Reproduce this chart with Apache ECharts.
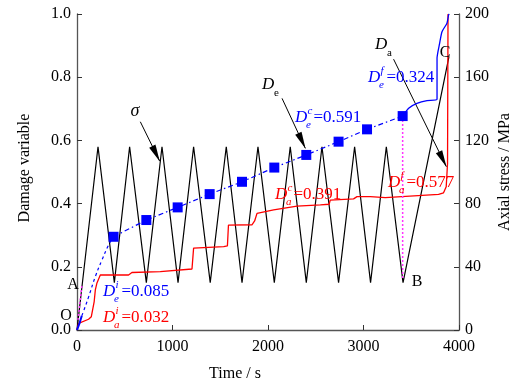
<!DOCTYPE html>
<html><head><meta charset="utf-8">
<script src="https://cdn.jsdelivr.net/npm/echarts@6/dist/echarts.min.js"></script>
<style>html,body{margin:0;padding:0;background:#fff}#c{width:522px;height:385px}</style>
</head><body><div id="c"></div>
<script>
// ---- data ----
var xTicks = [0, 1000, 2000, 3000, 4000];
var leftTicks = [0, 0.2, 0.4, 0.6, 0.8, 1.0];
var rightTicks = [0, 40, 80, 120, 160, 200];

// axial stress (MPa) vs time (s)
var stressT = [0, 220, 391, 551, 726, 890, 1058, 1221, 1395, 1563, 1728, 1895, 2066, 2233, 2401, 2565, 2739, 2907, 3074, 3239, 3414, 3895];
var stressV = [0, 116, 30, 116, 30, 116, 30, 116, 30, 116, 30, 116, 30, 116, 30, 116, 30, 116, 30, 116, 30, 173];

// D_a (red)
var daT = [0, 17, 121, 150, 163, 180, 192, 209, 244, 540, 560, 575, 872, 1204, 1215, 1221, 1536, 1575, 1586, 1832, 1860, 1885, 2059, 2304, 2548, 2640, 2652, 2896, 2932, 3071, 3228, 3245, 3786, 3838, 3866, 3880, 3885];
var daV = [0, 0.021, 0.034, 0.042, 0.044, 0.09, 0.127, 0.149, 0.174, 0.174, 0.178, 0.182, 0.185, 0.193, 0.195, 0.259, 0.264, 0.266, 0.332, 0.333, 0.345, 0.369, 0.380, 0.392, 0.396, 0.398, 0.411, 0.415, 0.422, 0.422, 0.419, 0.422, 0.429, 0.434, 0.453, 0.527, 1.0];

// D_e (blue)
var deStartT = [0, 25, 50];
var deStartV = [0, 0.02, 0.045];
var deCurveT = [50, 69, 122, 192, 262, 331, 383];
var deCurveV = [0.045, 0.06, 0.105, 0.169, 0.222, 0.269, 0.295];
var deSqT = [383, 726, 1054, 1389, 1728, 2066, 2401, 2739, 3037, 3410];
var deSqV = [0.295, 0.348, 0.388, 0.430, 0.469, 0.514, 0.554, 0.596, 0.635, 0.677];
var deEndT = [3410, 3473, 3560, 3665, 3770, 3770, 3797, 3822, 3874, 3891, 3898];
var deEndV = [0.677, 0.702, 0.717, 0.726, 0.730, 0.860, 0.907, 0.944, 0.971, 0.997, 1.0];

// magenta guide lines
var guideBT = [3410, 3410];
var guideBV = [0.677, 0.161];
var guideOAT = [10, 52];
var guideOAV = [0.032, 0.142];

// arrows [t0, v0, t1, v1]
var arrowSigma = [663, 0.659, 865, 0.535];
var arrowDe = [2147, 0.733, 2391, 0.575];
var arrowDa = [3315, 0.857, 3867, 0.517];

function zip(a, b) { return a.map(function (x, i) { return [x, b[i]]; }); }

var FONT = '"Liberation Serif", "Times New Roman", serif';
var BLUE = '#0000ff', RED = '#ff0000', MAG = '#ff33ff';

var chart = echarts.init(document.getElementById('c'), null, { renderer: 'canvas' });

function axisCommon() {
  return {
    axisLine: { show: true, lineStyle: { color: '#555', width: 1.3 } },
    axisTick: { show: true, inside: true, length: 5, lineStyle: { color: '#333', width: 1 } },
    splitLine: { show: false },
    axisLabel: { fontFamily: FONT, fontSize: 16, color: '#000' }
  };
}

var xa = axisCommon();
Object.assign(xa, { type: 'value', min: xTicks[0], max: xTicks[xTicks.length - 1], interval: xTicks[1] - xTicks[0] });
xa.axisLabel.margin = 9;
xa.axisLabel.formatter = function (v) { return String(v); };

var ya = axisCommon();
Object.assign(ya, { type: 'value', min: leftTicks[0], max: leftTicks[leftTicks.length - 1], interval: 0.2, position: 'left' });
ya.axisLabel.formatter = function (v) { return v.toFixed(1); };
ya.axisLabel.margin = 6;

var yb = axisCommon();
Object.assign(yb, { type: 'value', min: rightTicks[0], max: rightTicks[rightTicks.length - 1], interval: 40, position: 'right' });
yb.axisLabel.margin = 6;
yb.axisLabel.formatter = function (v) { return String(v); };

function arrowLine(a) {
  return [{ coord: [a[0], a[1]], symbol: 'none' },
          { coord: [a[2], a[3]], symbol: 'triangle', symbolSize: [7, 17], symbolOffset: [0, 8] }];
}

var option = {
  animation: false,
  backgroundColor: '#fff',
  grid: { left: 77, right: 63, top: 14, bottom: 55 },
  xAxis: xa,
  yAxis: [ya, yb],
  series: [
    { type: 'line', yAxisIndex: 1, data: zip(stressT, stressV), symbol: 'none', lineStyle: { color: '#000', width: 1.2 }, z: 3 },
    { type: 'line', yAxisIndex: 0, data: zip(daT, daV), symbol: 'none', lineStyle: { color: RED, width: 1.3 }, z: 4 },
    { type: 'line', yAxisIndex: 0, data: zip(deStartT, deStartV), symbol: 'none', lineStyle: { color: BLUE, width: 2 }, z: 5 },
    { type: 'line', yAxisIndex: 0, data: zip(deCurveT, deCurveV), symbol: 'none', smooth: true, lineStyle: { color: BLUE, width: 1.2, type: [3, 3] }, z: 5 },
    { type: 'line', yAxisIndex: 0, data: zip(deSqT, deSqV), symbol: 'rect', symbolSize: 10, showAllSymbol: true,
      itemStyle: { color: BLUE }, lineStyle: { color: BLUE, width: 1.2, type: [5, 3, 1.5, 3] }, z: 6 },
    { type: 'line', yAxisIndex: 0, data: zip(deEndT, deEndV), symbol: 'none', smooth: 0.2, lineStyle: { color: BLUE, width: 1.3 }, z: 5 },
    { type: 'line', yAxisIndex: 0, data: zip(guideBT, guideBV), symbol: 'none', lineStyle: { color: MAG, width: 1.5, type: [2, 2] }, z: 4 },
    { type: 'line', yAxisIndex: 0, data: zip(guideOAT, guideOAV), symbol: 'none', lineStyle: { color: MAG, width: 1.5, type: [2, 2] }, z: 4 },
    { type: 'line', yAxisIndex: 0, data: [], symbol: 'none', z: 7,
      markLine: { silent: true, animation: false, label: { show: false }, lineStyle: { color: '#000', width: 1, type: 'solid' },
        itemStyle: { color: '#000' },
        data: [arrowLine(arrowSigma), arrowLine(arrowDe), arrowLine(arrowDa)] } }
  ]
};
chart.setOption(option);

// ---- annotation texts ----
var g = [];
function txt(x, y, s, size, color, italic, align, rot) {
  var el = { type: 'text', x: x, y: y, z: 100,
    style: { text: s, font: (italic ? 'italic ' : '') + size + 'px ' + FONT, fill: color, align: align || 'left', verticalAlign: 'middle' } };
  if (rot) { el.rotation = rot; }
  g.push(el);
}
function dLabel(x, y, sup, sub, rest, color) {
  txt(x, y, 'D', 17, color, true);
  txt(x + 12.5, y - 7, sup, 11, color, true);
  txt(x + 11, y + 7, sub, 11, color, true);
  txt(x + 18.5, y, rest, 17, color, false);
}
dLabel(368, 78, 'f', 'e', '=0.324', BLUE);
dLabel(295, 118, 'c', 'e', '=0.591', BLUE);
dLabel(275, 195, 'c', 'a', '=0.391', RED);
dLabel(388, 183, 'f', 'a', '=0.577', RED);
dLabel(103, 292, 'i', 'e', '=0.085', BLUE);
dLabel(103, 318, 'i', 'a', '=0.032', RED);
// D_e, D_a, sigma
txt(262, 85, 'D', 17, '#000', true);
txt(274, 93, 'e', 11, '#000', false);
txt(375, 45, 'D', 17, '#000', true);
txt(387, 53, 'a', 11, '#000', false);
txt(135, 111, 'σ', 18, '#000', true, 'center');
// points
txt(73, 285, 'A', 16, '#000', false, 'center');
txt(66, 316, 'O', 16, '#000', false, 'center');
txt(417, 282, 'B', 16, '#000', false, 'center');
txt(445, 53, 'C', 16, '#000', false, 'center');
// axis names
txt(235, 374, 'Time / s', 16, '#000', false, 'center');
txt(25, 168, 'Damage variable', 16, '#000', false, 'center', Math.PI / 2);
txt(505, 172, 'Axial stress / MPa', 16, '#000', false, 'center', Math.PI / 2);
chart.setOption({ graphic: g });
</script>
</body></html>
